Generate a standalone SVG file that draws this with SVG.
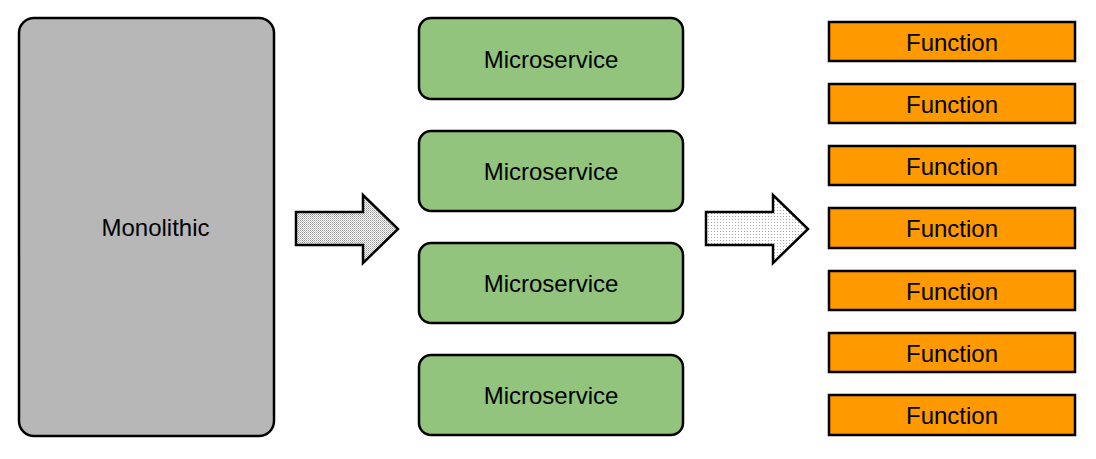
<svg xmlns="http://www.w3.org/2000/svg" width="1096" height="459" viewBox="0 0 1096 459">
<defs>
<pattern id="p1" width="2" height="2" patternUnits="userSpaceOnUse"><rect width="2" height="2" fill="#ffffff"/><rect width="1" height="1" fill="#999999"/><rect x="1" y="1" width="1" height="1" fill="#bbbbbb"/></pattern>
<pattern id="p2" width="3" height="3" patternUnits="userSpaceOnUse"><rect width="3" height="3" fill="#ffffff"/><rect width="1" height="1" fill="#aaaaaa"/></pattern>
</defs>
<style>
text{font-family:"Liberation Sans",Arial,sans-serif;font-size:24px;fill:#000;text-anchor:middle}
.mono{fill:#b7b7b7;stroke:#000;stroke-width:2.5}
.ms{fill:#93c47d;stroke:#000;stroke-width:2.5}
.fn{fill:#ff9900;stroke:#000;stroke-width:2.5}
.arr{stroke:#000;stroke-width:2.5;stroke-linejoin:miter}
</style>
<g id="monolithic"><rect class="mono" x="19" y="18" width="255" height="418" rx="15"/><text x="155.5" y="236">Monolithic</text></g>
<g id="ms1"><rect class="ms" x="419" y="18" width="264" height="81" rx="12"/><text x="551" y="68">Microservice</text></g>
<g id="ms2"><rect class="ms" x="419" y="131" width="264" height="80" rx="12"/><text x="551" y="180">Microservice</text></g>
<g id="ms3"><rect class="ms" x="419" y="243" width="264" height="80" rx="12"/><text x="551" y="292">Microservice</text></g>
<g id="ms4"><rect class="ms" x="419" y="355" width="264" height="80" rx="12"/><text x="551" y="404">Microservice</text></g>
<g id="f1"><rect class="fn" x="829" y="22" width="246" height="39"/><text x="952" y="50.5">Function</text></g>
<g id="f2"><rect class="fn" x="829" y="84" width="246" height="39"/><text x="952" y="112.5">Function</text></g>
<g id="f3"><rect class="fn" x="829" y="146" width="246" height="39"/><text x="952" y="174.5">Function</text></g>
<g id="f4"><rect class="fn" x="829" y="208" width="246" height="40"/><text x="952" y="237">Function</text></g>
<g id="f5"><rect class="fn" x="829" y="271" width="246" height="39"/><text x="952" y="299.5">Function</text></g>
<g id="f6"><rect class="fn" x="829" y="333" width="246" height="39"/><text x="952" y="361.5">Function</text></g>
<g id="f7"><rect class="fn" x="829" y="395" width="246" height="40"/><text x="952" y="424">Function</text></g>
<g id="connectors">
<path class="arr" fill="url(#p1)" d="M296 212 H363 V195 L398 229 L363 263 V245 H296 Z"/>
<path class="arr" fill="url(#p2)" d="M706 212 H773 V195 L808 229 L773 263 V245 H706 Z"/>
</g>
</svg>
